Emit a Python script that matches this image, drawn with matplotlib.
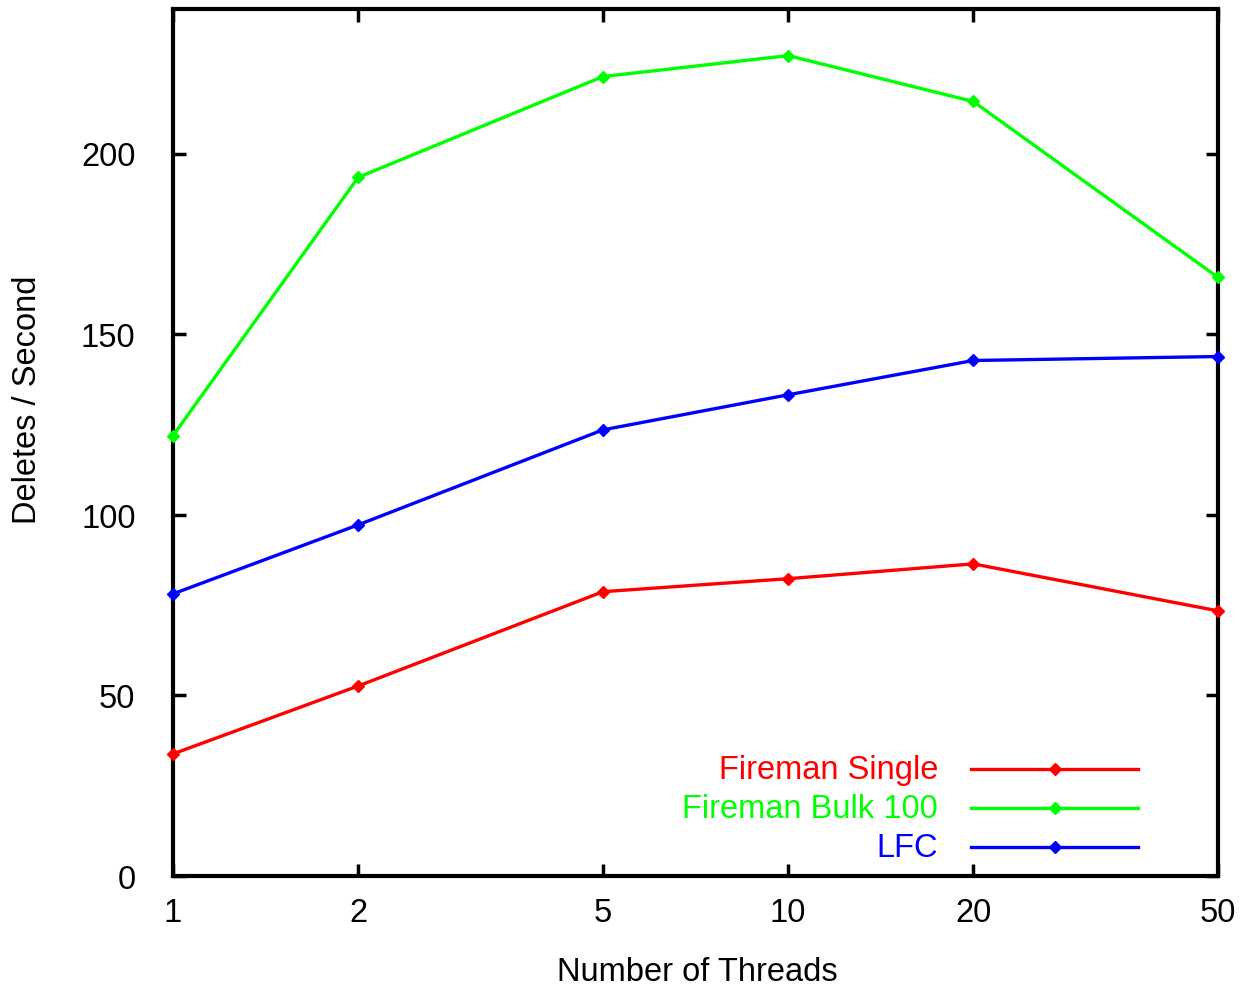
import matplotlib
matplotlib.use("Agg")
import matplotlib.pyplot as plt
from matplotlib.lines import Line2D

threads = [1, 2, 5, 10, 20, 50]
fireman_single = [33.8, 52.6, 78.7, 82.3, 86.4, 73.4]
fireman_bulk = [121.9, 193.4, 221.3, 227.1, 214.4, 165.7]
lfc = [78.1, 97.2, 123.5, 133.2, 142.7, 143.8]
series_names = ["Fireman Single", "Fireman Bulk 100", "LFC"]
colors = ["#ff0000", "#00ff00", "#0000ff"]
yticks = [0, 50, 100, 150, 200]

plt.rcParams['font.family'] = ['Liberation Sans', 'DejaVu Sans']

fig = plt.figure(figsize=(12.43, 9.87), dpi=100)
W, H = 1243, 987
L, R, T, B = 173, 1218, 10, 877
ax = fig.add_axes([L / W, 1 - B / H, (R - L) / W, (B - T) / H])

for vals, c in zip([fireman_single, fireman_bulk, lfc], colors):
    ax.plot(threads, vals, color=c, lw=2.4, marker='D', ms=6, mec=c, mfc=c, clip_on=False, zorder=3)

ax.set_xscale('log')
ax.set_xlim(1, 50)
ax.set_ylim(0, 240)
ax.set_xticks(threads)
ax.set_xticklabels([str(t) for t in threads])
ax.minorticks_off()
ax.set_yticks(yticks)
ax.set_yticklabels([str(v) for v in yticks])
ax.tick_params(direction='in', length=9, width=2.5, top=True, right=True, labelsize=23.5, colors='black')
ax.tick_params(axis='x', pad=15)
ax.tick_params(axis='y', pad=27)
for s in ax.spines.values():
    s.set_linewidth(3)

ax.set_xlabel("Number of Threads", fontsize=23.5, va='center')
ax.xaxis.set_label_coords(0.502, -0.1096)
ax.set_ylabel("Deletes / Second", fontsize=23.5, va='center')
ax.yaxis.set_label_coords(-0.1388, 0.550)

# legend drawn gnuplot-style
rows_y = [0.1234, 0.0784, 0.0334]
for name, c, yy in zip(series_names, colors, rows_y):
    ax.text(0.732, yy, name, color=c, fontsize=23.5, ha='right', va='center', transform=ax.transAxes)
    ax.add_line(Line2D([0.764, 0.923], [yy, yy], color=c, lw=2.4, transform=ax.transAxes))
    ax.add_line(Line2D([0.844], [yy], color=c, marker='D', ms=6, mfc=c, mec=c, transform=ax.transAxes))

fig.savefig("out.png", dpi=100)
